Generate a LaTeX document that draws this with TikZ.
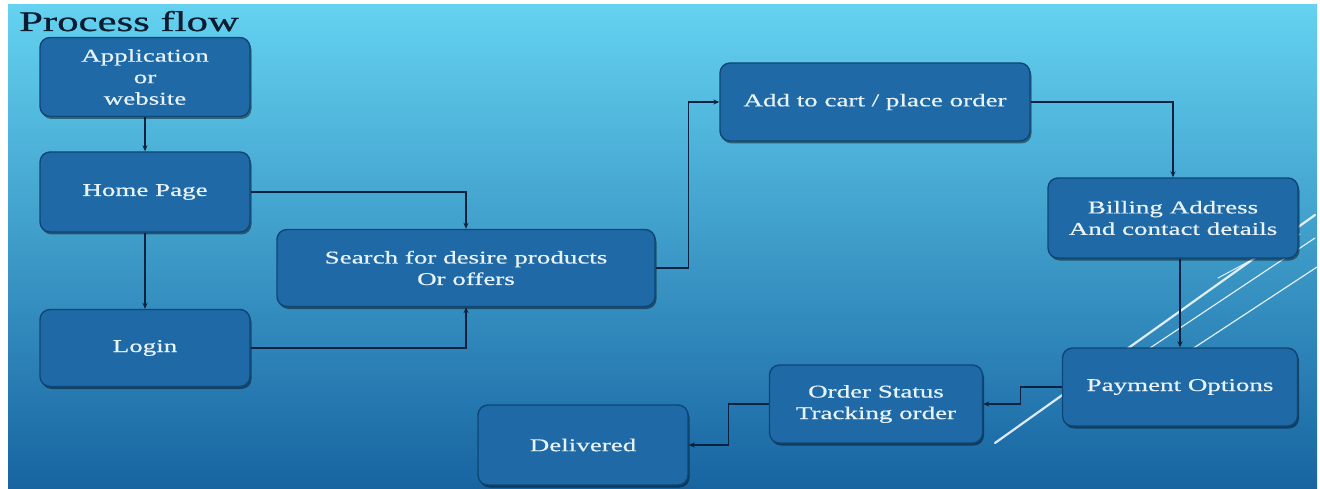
\documentclass[tikz,border=0pt]{standalone}
\usepackage{fontspec}
\setmainfont{Liberation Serif}
\newfontfamily\boxfont[FakeStretch=1.5,FakeBold=0.6]{Liberation Serif}
\newfontfamily\titlefont[FakeStretch=1.5,FakeBold=0.8]{Liberation Serif}
\usetikzlibrary{arrows.meta,shadows}
\definecolor{bgtop}{HTML}{64D2F0}
\definecolor{bgmid}{HTML}{3A9ED0}
\definecolor{bgbot}{HTML}{1764A1}
\definecolor{boxfill}{HTML}{1F69A6}
\definecolor{boxedge}{HTML}{0F4676}
\definecolor{boxtext}{HTML}{E8F3F8}
\definecolor{conncol}{HTML}{0A2240}
\definecolor{titlecol}{HTML}{0B1B30}
\tikzset{
  flowbox/.style={rectangle, rounded corners=10pt, fill=boxfill, draw=boxedge,
    line width=1.4pt, text=boxtext, align=center, inner sep=0pt,
    font=\boxfont\fontsize{18}{21.5}\selectfont,
    drop shadow={shadow xshift=1.5pt, shadow yshift=-2.5pt, fill=black, opacity=0.45}},
  conn/.style={draw=conncol, line width=1.3pt, -{Stealth[length=6pt,width=5pt]}},
  deco/.style={draw=white, opacity=0.85, line cap=round},
}
\begin{document}
\begin{tikzpicture}[x=1pt,y=-1pt]
\useasboundingbox (0,0) rectangle (1320,489);
\fill[white] (0,0) rectangle (1320,489);
\shade[top color=bgtop, middle color=bgmid, bottom color=bgbot] (8,5) rectangle (1317,489);
% decorative diagonal lines
\draw[deco, line width=2.2pt] (995,443) -- (1315,215);
\draw[deco, line width=1.2pt] (1120,368) -- (1315,238);
\draw[deco, line width=1.2pt] (1180,357) -- (1317,267);
\draw[deco, line width=1pt] (1218,278) -- (1300,234);
% title
\node[anchor=base west, text=titlecol, inner sep=0pt,
  font=\titlefont\fontsize{28.5}{30}\selectfont] (title) at (19,31) {Process flow};
% boxes
\node[flowbox, minimum width=210pt, minimum height=79pt] (app) at (145,77) {Application\\or\\website};
\node[flowbox, minimum width=210pt, minimum height=80pt] (home) at (145,192) {Home Page};
\node[flowbox, minimum width=210pt, minimum height=77pt] (login) at (145,348) {Login};
\node[flowbox, minimum width=378pt, minimum height=77pt] (search) at (466,268) {Search for desire products\\Or offers};
\node[flowbox, minimum width=310pt, minimum height=78pt] (cart) at (875,102) {Add to cart / place order};
\node[flowbox, minimum width=250pt, minimum height=80pt] (bill) at (1173,218) {Billing Address\\And contact details};
\node[flowbox, minimum width=235pt, minimum height=78pt] (pay) at (1180,387) {Payment Options};
\node[flowbox, minimum width=213pt, minimum height=78pt] (status) at (876,404) {Order Status\\Tracking order};
\node[flowbox, minimum width=210pt, minimum height=80pt] (deliv) at (583,445) {Delivered};
% connectors
\draw[conn] (app) -- (home);
\draw[conn] (home) -- (login);
\draw[conn] (home.east) -| (search.north);
\draw[conn] (login.east) -| (search.south);
\draw[conn] (search.east) -- ++(33,0) |- (cart.west);
\draw[conn] (cart.east) -| (bill.north);
\draw[conn] (pay.north |- bill.south) -- (pay.north);
\draw[conn] (pay.west) -- ++(-41,0) |- (status.east);
\draw[conn] (status.west) -- ++(-40,0) |- (deliv.east);
\end{tikzpicture}
\end{document}
